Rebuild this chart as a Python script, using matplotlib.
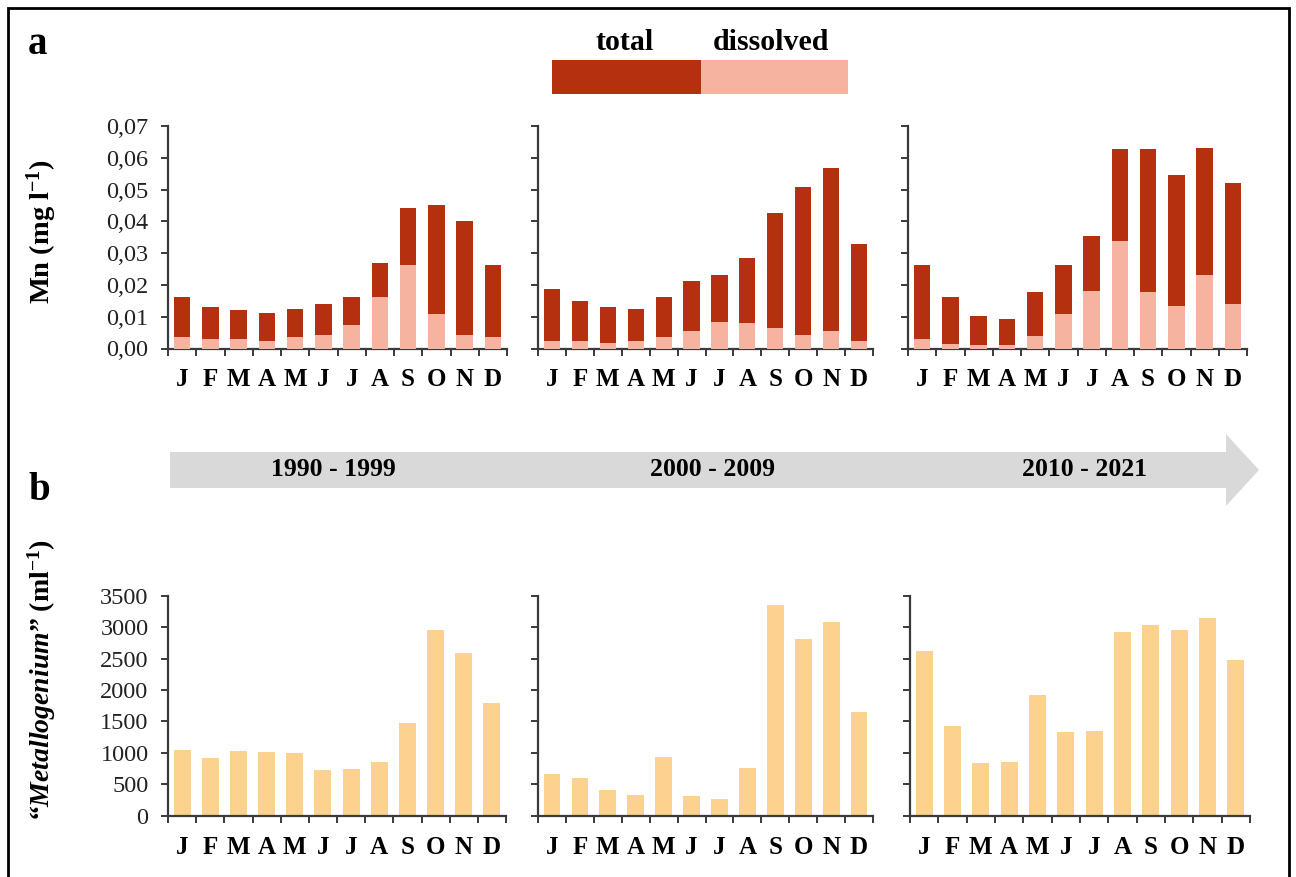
import numpy as np
import matplotlib
matplotlib.use("Agg")
import matplotlib.pyplot as plt
import matplotlib.patches as mpatches

plt.rcParams['font.family'] = ['Liberation Serif', 'DejaVu Serif']
plt.rcParams['mathtext.fontset'] = 'custom'
plt.rcParams['mathtext.rm'] = 'Liberation Serif:bold'
plt.rcParams['mathtext.it'] = 'Liberation Serif:italic:bold'
plt.rcParams['mathtext.bf'] = 'Liberation Serif:bold'

months = ['J', 'F', 'M', 'A', 'M', 'J', 'J', 'A', 'S', 'O', 'N', 'D']
periods = ['1990 - 1999', '2000 - 2009', '2010 - 2021']

# Mn total / dissolved (mg l-1)
mn_total_1990 = [0.0163, 0.0129, 0.0121, 0.0112, 0.0125, 0.0140, 0.0163, 0.0270, 0.0441, 0.0450, 0.0402, 0.0264]
mn_diss_1990 = [0.0037, 0.0029, 0.0029, 0.0024, 0.0035, 0.0044, 0.0073, 0.0163, 0.0264, 0.0110, 0.0042, 0.0037]
mn_total_2000 = [0.0186, 0.0150, 0.0129, 0.0124, 0.0163, 0.0213, 0.0231, 0.0286, 0.0425, 0.0507, 0.0567, 0.0330]
mn_diss_2000 = [0.0024, 0.0024, 0.0018, 0.0024, 0.0035, 0.0056, 0.0082, 0.0079, 0.0066, 0.0042, 0.0055, 0.0024]
mn_total_2010 = [0.0262, 0.0162, 0.0102, 0.0093, 0.0178, 0.0262, 0.0355, 0.0628, 0.0628, 0.0546, 0.0630, 0.0520]
mn_diss_2010 = [0.0031, 0.0013, 0.0010, 0.0011, 0.0040, 0.0110, 0.0180, 0.0338, 0.0179, 0.0135, 0.0230, 0.0140]

# "Metallogenium" (ml-1)
metall_1990 = [1050, 920, 1025, 1020, 1000, 720, 745, 855, 1470, 2950, 2590, 1800]
metall_2000 = [655, 605, 400, 330, 935, 310, 265, 765, 3360, 2820, 3090, 1650]
metall_2010 = [2620, 1420, 830, 860, 1920, 1330, 1340, 2920, 3030, 2950, 3150, 2480]

mn_total = [mn_total_1990, mn_total_2000, mn_total_2010]
mn_diss = [mn_diss_1990, mn_diss_2000, mn_diss_2010]
metall = [metall_1990, metall_2000, metall_2010]

c_total = '#b5300e'
c_diss = '#f6b4a0'
c_metall = '#fdd28e'

W, H = 1296, 877
fig = plt.figure(figsize=(W / 100, H / 100), dpi=100)


def fx(x):
    return x / W


def fy(y):
    return 1 - y / H


def style_axes(ax, show_labels, ymax, yticks, yfmt, mpad):
    x = np.arange(12)
    ax.set_xlim(-0.5, 11.5)
    ax.set_ylim(0, ymax)
    for s in ['top', 'right']:
        ax.spines[s].set_visible(False)
    for s in ['left', 'bottom']:
        ax.spines[s].set_color('#3a3a3a')
        ax.spines[s].set_linewidth(1.6)
    ax.set_xticks(np.arange(-0.5, 12, 1))
    ax.set_xticklabels([])
    ax.set_xticks(x, minor=True)
    ax.set_xticklabels(months, minor=True, fontsize=18, fontweight='bold')
    ax.tick_params(axis='x', which='major', direction='out', length=5, width=1.4, color='#3a3a3a')
    ax.tick_params(axis='x', which='minor', length=0, pad=mpad)
    ax.set_yticks(yticks)
    if show_labels:
        ax.set_yticklabels([yfmt(v) for v in yticks], fontsize=17.5, color='#222222')
    else:
        ax.set_yticklabels([])
    ax.tick_params(axis='y', direction='out', length=5, width=1.4, color='#3a3a3a', pad=9)


top_lefts = [168, 538, 908]
top_widths = [339, 335, 339]
bot_lefts = [168, 538, 910]
bot_widths = [338, 335, 340]

mn_ticks = np.arange(0, 0.0701, 0.01)
met_ticks = np.arange(0, 3501, 500)

for i in range(3):
    ax = fig.add_axes([fx(top_lefts[i]), fy(348.5), top_widths[i] / W, (348.5 - 126) / H])
    ax.bar(np.arange(12), mn_total[i], width=0.58, color=c_total, zorder=2)
    ax.bar(np.arange(12), mn_diss[i], width=0.58, color=c_diss, zorder=3)
    style_axes(ax, i == 0, 0.07, mn_ticks, lambda v: ('%.2f' % v).replace('.', ','), 14)

    ax = fig.add_axes([fx(bot_lefts[i]), fy(815.5), bot_widths[i] / W, (815.5 - 596) / H])
    ax.bar(np.arange(12), metall[i], width=0.6, color=c_metall, zorder=2)
    style_axes(ax, i == 0, 3500, met_ticks, lambda v: '%d' % v, 15)

# axis titles
fig.text(fx(42), fy(232), 'Mn (mg l$^{-1}$)', rotation=90, ha='center', va='center',
         fontsize=20.5, fontweight='bold')
fig.text(fx(42), fy(680), '“$\\it{Metallogenium}$” (ml$^{-1}$)', rotation=90, ha='center',
         va='center', fontsize=20, fontweight='bold')

# panel letters
fig.text(fx(28), fy(45), 'a', fontsize=28, fontweight='bold', va='center', ha='left')
fig.text(fx(28), fy(490), 'b', fontsize=28, fontweight='bold', va='center', ha='left')

# legend boxes
fig.add_artist(mpatches.Rectangle((fx(552), fy(94)), (701 - 552) / W, 34 / H,
                                  transform=fig.transFigure, color=c_total, lw=0))
fig.add_artist(mpatches.Rectangle((fx(701), fy(94)), (848 - 701) / W, 34 / H,
                                  transform=fig.transFigure, color=c_diss, lw=0))
fig.text(fx(625), fy(43), 'total', fontsize=21.5, fontweight='bold', ha='center', va='center')
fig.text(fx(771), fy(43), 'dissolved', fontsize=21.5, fontweight='bold', ha='center', va='center')

# time arrow
arrow = mpatches.Polygon([(fx(170), fy(452)), (fx(1226), fy(452)), (fx(1226), fy(434)),
                          (fx(1259), fy(470)), (fx(1226), fy(506)), (fx(1226), fy(488)),
                          (fx(170), fy(488))],
                         closed=True, transform=fig.transFigure, color='#d9d9d9', lw=0)
fig.add_artist(arrow)
for x, p in zip([333, 712, 1085], periods):
    fig.text(fx(x), fy(470), p, fontsize=18.5, fontweight='bold', ha='center', va='center')

# outer frame
fig.add_artist(mpatches.Rectangle((fx(8), fy(895)), (1289 - 8) / W, (895 - 8) / H,
                                  transform=fig.transFigure, fill=False, ec='black', lw=2))

fig.savefig('out.png', dpi=100)
